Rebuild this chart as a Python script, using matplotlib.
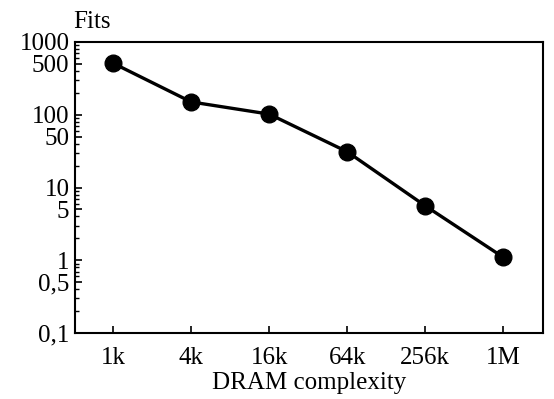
import matplotlib
matplotlib.use("Agg")
import matplotlib.pyplot as plt
from matplotlib.ticker import FixedLocator, NullFormatter, LogLocator

categories = ["1k", "4k", "16k", "64k", "256k", "1M"]
fits = [510, 150, 102, 31, 5.6, 1.1]
ytick_values = [0.1, 0.5, 1, 5, 10, 50, 100, 500, 1000]
ytick_labels = ["0,1", "0,5", "1", "5", "10", "50", "100", "500", "1000"]

plt.rcParams['font.family'] = ['Liberation Serif', 'DejaVu Serif']
fig = plt.figure(figsize=(5.54, 3.99), dpi=100)
ax = fig.add_axes([75/554, 1 - 333/399, (543-75)/554, (333-42)/399])

x = list(range(len(categories)))
ax.plot(x, fits, color='black', lw=2.4, marker='o', ms=12, zorder=3)

ax.set_yscale('log')
ax.set_ylim(0.1, 1000)
ax.set_xlim(-0.49, 5.51)
ax.yaxis.set_major_locator(FixedLocator(ytick_values))
ax.set_yticklabels(ytick_labels)
ax.yaxis.set_minor_locator(LogLocator(base=10, subs=[2, 3, 4, 6, 7, 8, 9]))
ax.yaxis.set_minor_formatter(NullFormatter())
ax.set_xticks(x)
ax.set_xticklabels(categories)

for s in ax.spines.values():
    s.set_linewidth(1.5)
ax.tick_params(axis='both', which='major', direction='in', length=5, width=1.2,
               labelsize=18, pad=4)
ax.tick_params(axis='y', which='minor', direction='in', length=3, width=1)
ax.tick_params(axis='x', pad=10)

ax.set_xlabel("DRAM complexity", fontsize=18, labelpad=2)
fig.text(73/554, 1 - 22/399, "Fits", fontsize=18, ha='left', va='center')

fig.savefig("out.png", dpi=100)
